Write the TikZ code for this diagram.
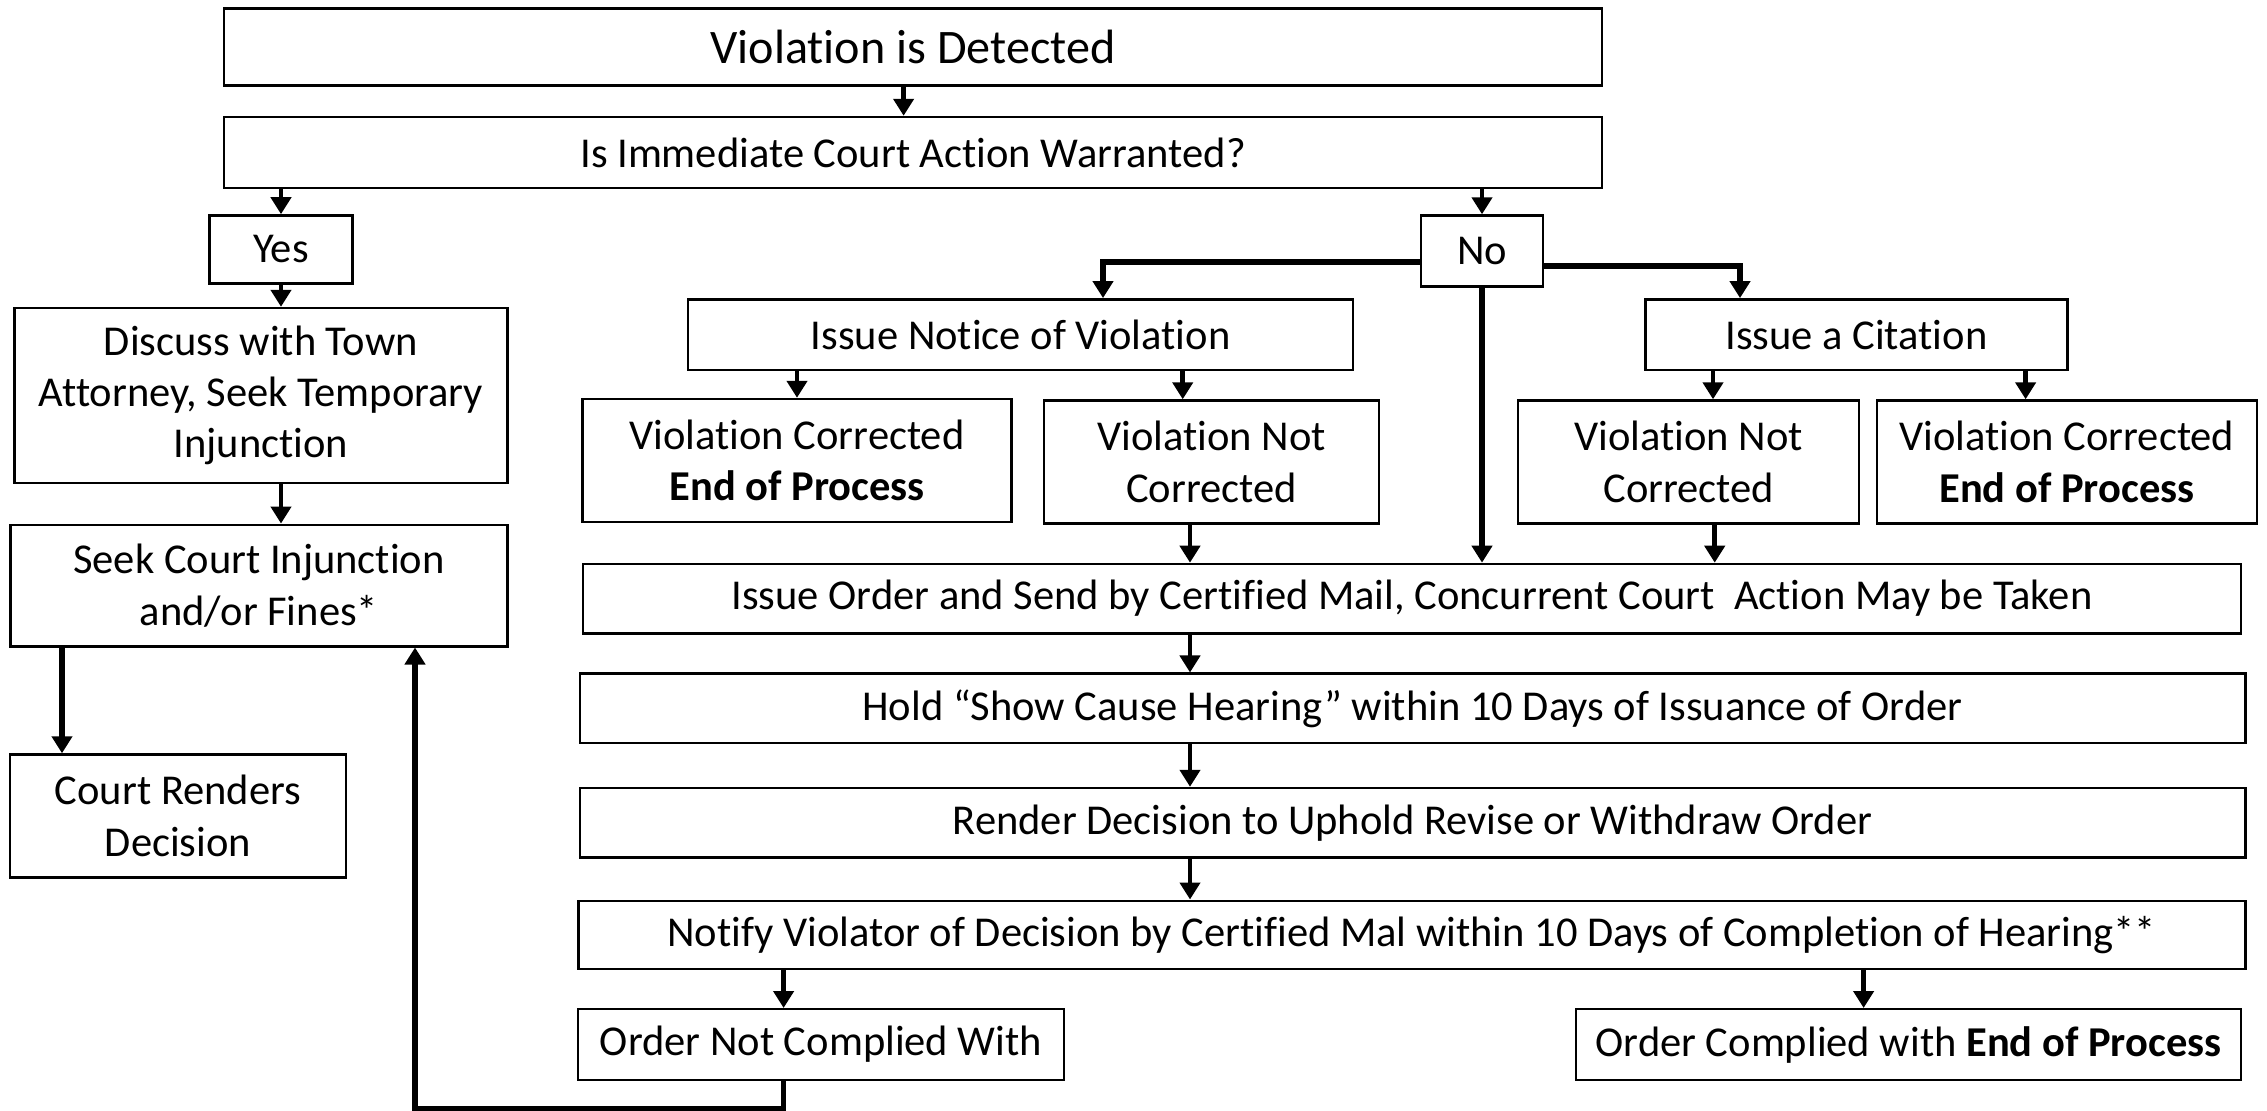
\documentclass[tikz,border=0pt]{standalone}
\usepackage{fontspec}
\setmainfont{Carlito}[Ligatures=NoCommon]
\usetikzlibrary{arrows.meta,positioning,calc}

\begin{document}
\begin{tikzpicture}[
    stepbox/.style={draw, line width=0.7pt, inner sep=0pt, align=center, font=\fontsize{12.1pt}{14.6pt}\selectfont},
    arr/.style={-{Triangle[length=0.17cm, width=0.2cm]}, line width=1.3pt},
    link/.style={-{Triangle[length=0.17cm, width=0.2cm]}, line width=1.6pt}
]
    \useasboundingbox (0,0) rectangle (22.67,-11.10);

    % top of the chart
    \node[stepbox, minimum width=13.78cm, minimum height=0.766cm, font=\fontsize{13.7pt}{16pt}\selectfont] (detect) at (9.13,-0.47) {Violation is Detected};
    \node[stepbox, minimum width=13.78cm, minimum height=0.71cm] (warrant) at (9.13,-1.525) {Is Immediate Court Action Warranted?};
    \node[stepbox, minimum width=1.43cm, minimum height=0.68cm] (yes) at (2.81,-2.494) {Yes};
    \node[stepbox, minimum width=1.22cm, minimum height=0.71cm] (no) at (14.82,-2.51) {No};

    % court branch
    \node[stepbox, minimum width=4.93cm, minimum height=1.75cm] (discuss) at (2.61,-3.955) {Discuss with Town\\Attorney, Seek Temporary\\Injunction};
    \node[stepbox, minimum width=4.97cm, minimum height=1.215cm] (seek) at (2.59,-5.855) {Seek Court Injunction\\and/or Fines*};
    \node[stepbox, minimum width=3.355cm, minimum height=1.23cm] (court) at (1.78,-8.16) {Court Renders\\Decision};

    % notice / citation branch
    \node[stepbox, minimum width=6.65cm, minimum height=0.708cm] (notice) at (10.207,-3.347) {Issue Notice of Violation};
    \node[stepbox, minimum width=4.22cm, minimum height=0.708cm] (citation) at (18.564,-3.347) {Issue a Citation};
    \node[stepbox, minimum width=4.29cm, minimum height=1.23cm] (vcl) at (7.97,-4.605) {Violation Corrected\\\textbf{End of Process}};
    \node[stepbox, minimum width=3.35cm, minimum height=1.23cm] (vncl) at (12.116,-4.62) {Violation Not\\Corrected};
    \node[stepbox, minimum width=3.41cm, minimum height=1.23cm] (vncr) at (16.887,-4.62) {Violation Not\\Corrected};
    \node[stepbox, minimum width=3.80cm, minimum height=1.23cm] (vcr) at (20.668,-4.62) {Violation Corrected\\\textbf{End of Process}};

    % order and hearing
    \node[stepbox, minimum width=16.58cm, minimum height=0.694cm] (order) at (14.12,-5.986) {Issue Order and Send by Certified Mail, Concurrent Court~ Action May be Taken};
    \node[stepbox, minimum width=16.655cm, minimum height=0.694cm] (hold) at (14.125,-7.084) {Hold “Show Cause Hearing” within 10 Days of Issuance of Order};
    \node[stepbox, minimum width=16.655cm, minimum height=0.694cm] (render) at (14.125,-8.227) {Render Decision to Uphold Revise or Withdraw Order};
    \node[stepbox, minimum width=16.67cm, minimum height=0.68cm] (notify) at (14.118,-9.347) {Notify Violator of Decision by Certified Mal within 10 Days of Completion of Hearing**};
    \node[stepbox, minimum width=4.857cm, minimum height=0.708cm] (notcomp) at (8.21,-10.446) {Order Not Complied With};
    \node[stepbox, minimum width=6.65cm, minimum height=0.708cm] (comp) at (19.085,-10.446) {Order Complied with \textbf{End of Process}};

    % columns for the arrows
    \coordinate (colyes) at (2.81,0);
    \coordinate (coltop) at (9.036,0);
    \coordinate (colno) at (14.82,0);
    \coordinate (colvc) at (7.97,0);
    \coordinate (colnl) at (11.827,0);
    \coordinate (colnr) at (17.13,0);
    \coordinate (colvr) at (20.256,0);
    \coordinate (colmid) at (11.90,0);
    \coordinate (colmr) at (17.147,0);
    \coordinate (colnc) at (7.836,0);
    \coordinate (colcp) at (18.636,0);
    \coordinate (colct) at (0.62,0);

    \draw[arr] (coltop |- detect.south) -- (coltop |- warrant.north);
    \draw[arr] (colyes |- warrant.south) -- (yes.north);
    \draw[arr] (colno |- warrant.south) -- (no.north);
    \draw[arr] (yes.south) -- (colyes |- discuss.north);
    \draw[arr] (colyes |- discuss.south) -- (colyes |- seek.north);
    \draw[link] (colct |- seek.south) -- (colct |- court.north);

    \draw[link] ([yshift=-0.11cm]no.west) -| ([xshift=0.823cm]notice.north);
    \draw[link] ([yshift=-0.15cm]no.east) -| ([xshift=-1.164cm]citation.north);
    \draw[link] (no.south) -- (colno |- order.north);

    \draw[arr] (colvc |- notice.south) -- (colvc |- vcl.north);
    \draw[arr] (colnl |- notice.south) -- (colnl |- vncl.north);
    \draw[arr] (colnr |- citation.south) -- (colnr |- vncr.north);
    \draw[arr] (colvr |- citation.south) -- (colvr |- vcr.north);
    \draw[arr] (colmid |- vncl.south) -- (colmid |- order.north);
    \draw[arr] (colmr |- vncr.south) -- (colmr |- order.north);
    \draw[arr] (colmid |- order.south) -- (colmid |- hold.north);
    \draw[arr] (colmid |- hold.south) -- (colmid |- render.north);
    \draw[arr] (colmid |- render.south) -- (colmid |- notify.north);
    \draw[arr] (colnc |- notify.south) -- (colnc |- notcomp.north);
    \draw[arr] (colcp |- notify.south) -- (colcp |- comp.north);

    % back to the court when the order is ignored
    \draw[link] (colnc |- notcomp.south) -- ++(0,-0.275) -| ([xshift=1.56cm]seek.south);
\end{tikzpicture}
\end{document}
